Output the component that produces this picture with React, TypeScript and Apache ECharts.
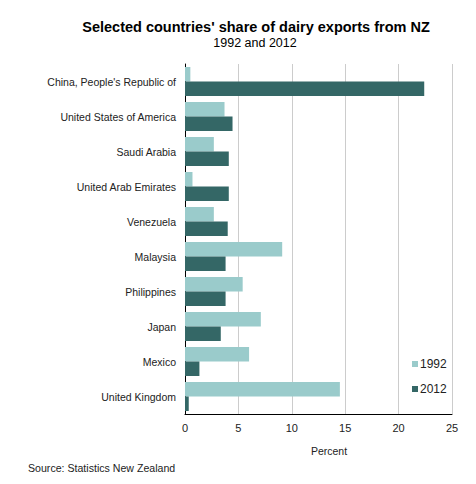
import React, { useEffect, useRef } from "react";
import * as echarts from "echarts";

const categories = [
  "China, People's Republic of",
  "United States of America",
  "Saudi Arabia",
  "United Arab Emirates",
  "Venezuela",
  "Malaysia",
  "Philippines",
  "Japan",
  "Mexico",
  "United Kingdom",
];
const values1992 = [0.5, 3.7, 2.7, 0.7, 2.7, 9.1, 5.4, 7.1, 6.0, 14.5];
const values2012 = [22.4, 4.45, 4.1, 4.1, 4.0, 3.8, 3.8, 3.35, 1.35, 0.35];
const seriesNames = ["1992", "2012"];
const xTicks = { min: 0, max: 25, interval: 5 };

const FONT = "'Liberation Sans', Arial, sans-serif";
const LIGHT = "#9ACBCB";
const DARK = "#346766";

export default function App() {
  const ref = useRef<HTMLDivElement>(null);
  useEffect(() => {
    if (!ref.current) return;
    const chart = echarts.init(ref.current, undefined, { renderer: "svg" });
    chart.setOption({
      animation: false,
      backgroundColor: "#ffffff",
      textStyle: { fontFamily: FONT },
      grid: { left: 185, right: 24, top: 64, bottom: 70, containLabel: false },
      legend: {
        orient: "vertical",
        left: 407,
        top: 353,
        icon: "rect",
        itemWidth: 6,
        itemHeight: 6,
        itemGap: 13,
        textStyle: { fontSize: 12, color: "#222", fontFamily: FONT, padding: [0, 0, 0, -3] },
        data: seriesNames,
      },
      xAxis: {
        type: "value",
        min: xTicks.min,
        max: xTicks.max,
        interval: xTicks.interval,
        axisLine: { show: true, lineStyle: { color: "#000", width: 1 } },
        axisTick: { show: false },
        axisLabel: { fontSize: 11, color: "#222", margin: 8, fontFamily: FONT },
        splitLine: { show: true, lineStyle: { color: "#cccccc", width: 1 } },
      },
      yAxis: {
        type: "category",
        inverse: true,
        data: categories,
        axisLine: { show: true, lineStyle: { color: "#000", width: 1 } },
        axisTick: { show: false },
        axisLabel: { fontSize: 10.5, color: "#222", margin: 9, fontFamily: FONT },
        splitLine: { show: false },
      },
      series: [
        {
          name: seriesNames[0],
          type: "bar",
          data: values1992,
          itemStyle: { color: LIGHT },
          barGap: "0%",
          barCategoryGap: "17%",
        },
        {
          name: seriesNames[1],
          type: "bar",
          data: values2012,
          itemStyle: { color: DARK },
          barGap: "0%",
          barCategoryGap: "17%",
        },
      ],
      graphic: [
        {
          type: "text",
          x: 256,
          y: 27,
          style: {
            text: "Selected countries' share of dairy exports from NZ",
            fontSize: 14.5,
            fontWeight: "bold",
            fontFamily: FONT,
            fill: "#000",
            textAlign: "center",
            textVerticalAlign: "middle",
          },
        },
        {
          type: "text",
          x: 255,
          y: 43,
          style: {
            text: "1992 and 2012",
            fontSize: 12.5,
            fontFamily: FONT,
            fill: "#000",
            textAlign: "center",
            textVerticalAlign: "middle",
          },
        },
        {
          type: "text",
          x: 329,
          y: 451,
          style: {
            text: "Percent",
            fontSize: 10.5,
            fontFamily: FONT,
            fill: "#222",
            textAlign: "center",
            textVerticalAlign: "middle",
          },
        },
        {
          type: "text",
          x: 28,
          y: 468,
          style: {
            text: "Source: Statistics New Zealand",
            fontSize: 10.6,
            fontFamily: FONT,
            fill: "#222",
            textAlign: "left",
            textVerticalAlign: "middle",
          },
        },
      ],
    });
    return () => chart.dispose();
  }, []);
  return (
    <div
      ref={ref}
      style={{ position: "fixed", left: 0, top: 0, width: 476, height: 484 }}
    />
  );
}
